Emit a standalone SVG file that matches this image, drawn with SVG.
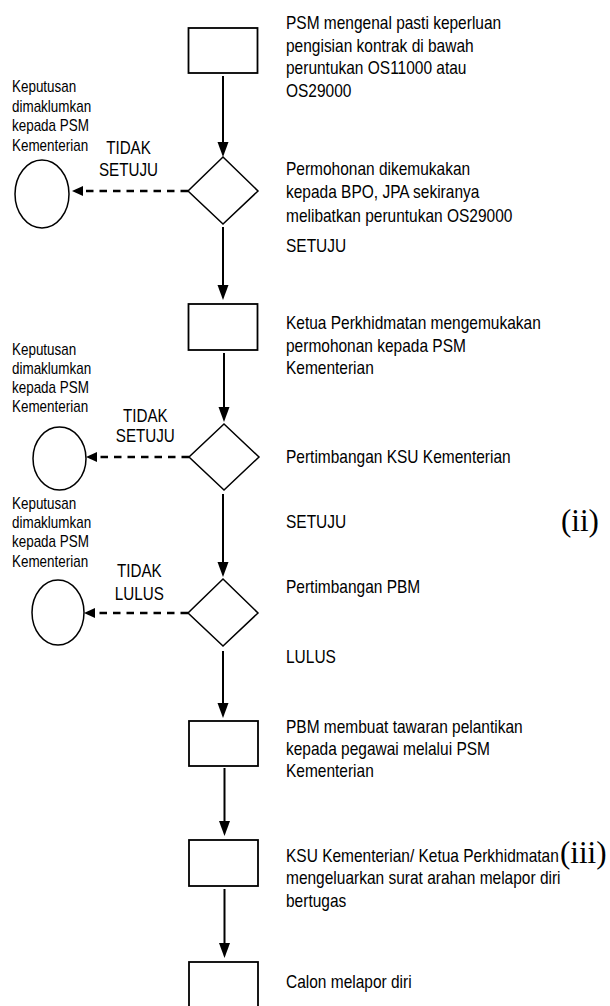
<svg xmlns="http://www.w3.org/2000/svg" width="610" height="1006" viewBox="0 0 610 1006">
<defs>
<style>
.box{fill:#fff;stroke:#000;stroke-width:1.8}
.dia{fill:#fff;stroke:#000;stroke-width:1.5}
.end{fill:#fff;stroke:#000;stroke-width:1.5}
.flow{fill:none;stroke:#000;stroke-width:2;marker-end:url(#ah)}
.no{fill:none;stroke:#000;stroke-width:2.6;stroke-dasharray:7.5 6;marker-end:url(#ahs)}
.t{font-family:"Liberation Sans",Arial,sans-serif;font-size:19px;fill:#000}
.n{font-family:"Liberation Sans",Arial,sans-serif;font-size:16px;fill:#000}
.d{font-family:"Liberation Sans",Arial,sans-serif;font-size:19px;fill:#000;text-anchor:middle}
.r{font-family:"Liberation Serif","Times New Roman",serif;font-size:31px;fill:#000}
</style>
<marker id="ah" markerUnits="userSpaceOnUse" markerWidth="16" markerHeight="12" refX="11" refY="6" orient="auto">
<path d="M0,0.5 L15,6 L0,11.5 z" fill="#000"/>
</marker>
<marker id="ahs" markerUnits="userSpaceOnUse" markerWidth="12" markerHeight="11" refX="7" refY="5" orient="auto">
<path d="M0,0 L11,5 L0,10 z" fill="#000"/>
</marker>
</defs>
<rect width="610" height="1006" fill="#fff"/>

<g id="connectors">
<line class="flow" x1="223" y1="76" x2="223" y2="153"/>
<line class="flow" x1="223" y1="227" x2="223" y2="296"/>
<line class="flow" x1="224" y1="353" x2="224" y2="418"/>
<line class="flow" x1="223" y1="494" x2="223" y2="573"/>
<line class="flow" x1="223" y1="651" x2="223" y2="714"/>
<line class="flow" x1="224.5" y1="768" x2="224.5" y2="832"/>
<line class="flow" x1="224.5" y1="889" x2="224.5" y2="954"/>
<line class="no" x1="188" y1="191" x2="76" y2="191"/>
<line class="no" x1="189" y1="457" x2="90" y2="457"/>
<line class="no" x1="188" y1="613" x2="88" y2="613"/>
</g>

<g id="n1">
<rect class="box" x="188.5" y="28" width="69" height="45"/>
<text class="t" transform="matrix(0.815 0 0 1 286 0)"><tspan x="0" y="29">PSM mengenal pasti keperluan</tspan><tspan x="0" y="51.7">pengisian kontrak di bawah</tspan><tspan x="0" y="74.4">peruntukan OS11000 atau</tspan><tspan x="0" y="97">OS29000</tspan></text>
</g>

<g id="d1">
<polygon class="dia" points="223,157 258,191 223,224 188,191"/>
<text class="t" transform="matrix(0.815 0 0 1 286 0)"><tspan x="0" y="175">Permohonan dikemukakan</tspan><tspan x="0" y="198.3">kepada BPO, JPA sekiranya</tspan><tspan x="0" y="221.6">melibatkan peruntukan OS29000</tspan><tspan x="0" y="251.7">SETUJU</tspan></text>
<text class="d" transform="matrix(0.8 0 0 1 128.5 0)"><tspan x="0" y="154">TIDAK</tspan><tspan x="0" y="176">SETUJU</tspan></text>
</g>

<g id="e1">
<ellipse class="end" cx="42" cy="194" rx="27" ry="34"/>
<text class="n" transform="matrix(0.84 0 0 1 12 0)"><tspan x="0" y="92">Keputusan</tspan><tspan x="0" y="111.7">dimaklumkan</tspan><tspan x="0" y="131.3">kepada PSM</tspan><tspan x="0" y="151">Kementerian</tspan></text>
</g>

<g id="n2">
<rect class="box" x="188.5" y="304" width="69" height="46"/>
<text class="t" transform="matrix(0.815 0 0 1 286 0)"><tspan x="0" y="329.3">Ketua Perkhidmatan mengemukakan</tspan><tspan x="0" y="351.6">permohonan kepada PSM</tspan><tspan x="0" y="374">Kementerian</tspan></text>
</g>

<g id="d2">
<polygon class="dia" points="224,424 259,457 224,490 189,457"/>
<text class="t" transform="matrix(0.815 0 0 1 286 0)"><tspan x="0" y="462.7">Pertimbangan KSU Kementerian</tspan><tspan x="0" y="527.7">SETUJU</tspan></text>
<text class="d" transform="matrix(0.8 0 0 1 145.3 0)"><tspan x="0" y="421.7">TIDAK</tspan><tspan x="0" y="441.7">SETUJU</tspan></text>
</g>

<g id="e2">
<ellipse class="end" cx="59.5" cy="458.5" rx="26.5" ry="31.5"/>
<text class="n" transform="matrix(0.84 0 0 1 12 0)"><tspan x="0" y="355">Keputusan</tspan><tspan x="0" y="374">dimaklumkan</tspan><tspan x="0" y="393">kepada PSM</tspan><tspan x="0" y="412">Kementerian</tspan></text>
</g>

<g id="d3">
<polygon class="dia" points="223,579 258,613 223,646 188,613"/>
<text class="t" transform="matrix(0.815 0 0 1 286 0)"><tspan x="0" y="592.7">Pertimbangan PBM</tspan><tspan x="0" y="662.7">LULUS</tspan></text>
<text class="d" transform="matrix(0.8 0 0 1 139.3 0)"><tspan x="0" y="577">TIDAK</tspan><tspan x="0" y="600">LULUS</tspan></text>
</g>

<g id="e3">
<ellipse class="end" cx="58" cy="612.5" rx="26" ry="32.5"/>
<text class="n" transform="matrix(0.84 0 0 1 12 0)"><tspan x="0" y="509">Keputusan</tspan><tspan x="0" y="528.3">dimaklumkan</tspan><tspan x="0" y="547">kepada PSM</tspan><tspan x="0" y="566.7">Kementerian</tspan></text>
</g>

<g id="n4">
<rect class="box" x="189" y="721" width="69" height="45"/>
<text class="t" transform="matrix(0.815 0 0 1 286 0)"><tspan x="0" y="733.3">PBM membuat tawaran pelantikan</tspan><tspan x="0" y="755">kepada pegawai melalui PSM</tspan><tspan x="0" y="776.7">Kementerian</tspan></text>
</g>

<g id="n5">
<rect class="box" x="189" y="840" width="69" height="46"/>
<text class="t" transform="matrix(0.815 0 0 1 286 0)"><tspan x="0" y="861.7">KSU Kementerian/ Ketua Perkhidmatan</tspan><tspan x="0" y="884.5">mengeluarkan surat arahan melapor diri</tspan><tspan x="0" y="906.7">bertugas</tspan></text>
</g>

<g id="n6">
<rect class="box" x="189" y="962" width="69" height="50"/>
<text class="t" transform="matrix(0.815 0 0 1 286 0)"><tspan x="0" y="988.3">Calon melapor diri</tspan></text>
</g>

<g id="labels">
<text class="r" x="561" y="531">(ii)</text>
<text class="r" x="560" y="862.5">(iii)</text>
</g>
</svg>
